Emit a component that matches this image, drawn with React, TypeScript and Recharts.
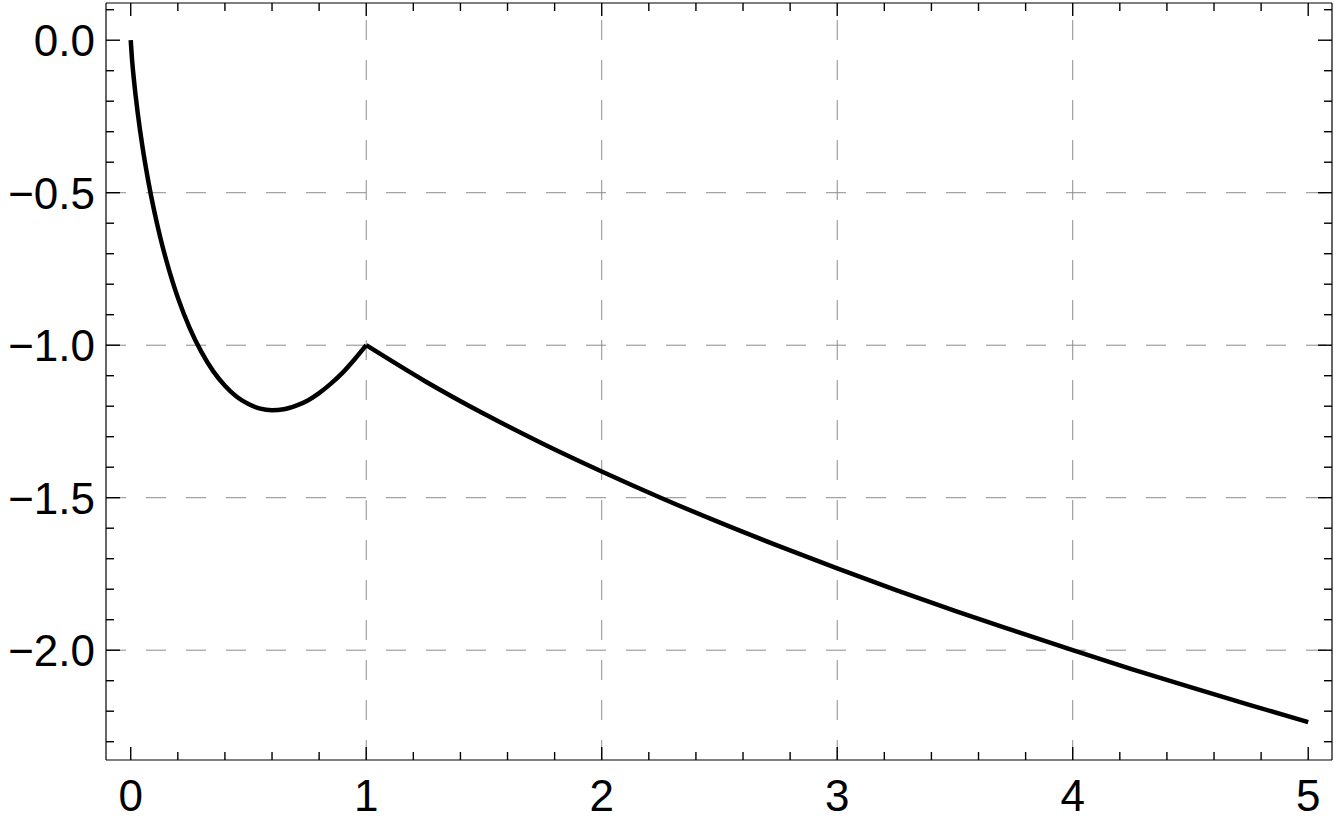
import React from 'react';
import { LineChart, Line, XAxis, YAxis, ReferenceLine } from 'recharts';

// Branch on [0, 1]
const leftX = [0, 0.005, 0.01, 0.02, 0.03, 0.05, 0.075, 0.1, 0.125, 0.15, 0.175, 0.2, 0.25, 0.3, 0.35, 0.4, 0.45, 0.5, 0.55, 0.6, 0.65, 0.7, 0.75, 0.8, 0.85, 0.9, 0.95, 1];
const leftY = [0, -0.058, -0.102, -0.176, -0.24, -0.35, -0.464, -0.561, -0.645, -0.719, -0.785, -0.844, -0.943, -1.022, -1.085, -1.133, -1.169, -1.193, -1.208, -1.213, -1.21, -1.199, -1.182, -1.157, -1.126, -1.09, -1.047, -1.0];

// Branch on [1, 5]
const rightX = [1, 1.25, 1.5, 1.75, 2, 2.25, 2.5, 2.75, 3, 3.25, 3.5, 3.75, 4, 4.25, 4.5, 4.75, 5];
const rightY = [-1.0, -1.118, -1.225, -1.323, -1.414, -1.5, -1.581, -1.658, -1.732, -1.803, -1.871, -1.936, -2.0, -2.062, -2.121, -2.179, -2.236];

// Ticks
const xTicks = [0, 0.2, 0.4, 0.6, 0.8, 1, 1.2, 1.4, 1.6, 1.8, 2, 2.2, 2.4, 2.6, 2.8, 3, 3.2, 3.4, 3.6, 3.8, 4, 4.2, 4.4, 4.6, 4.8, 5];
const xMajor = [0, 1, 2, 3, 4, 5];
const xTickLabels = ['0', '1', '2', '3', '4', '5'];

const yTicks = [0.1, 0, -0.1, -0.2, -0.3, -0.4, -0.5, -0.6, -0.7, -0.8, -0.9, -1.0, -1.1, -1.2, -1.3, -1.4, -1.5, -1.6, -1.7, -1.8, -1.9, -2.0, -2.1, -2.2, -2.3];
const yMajor = [0, -0.5, -1.0, -1.5, -2.0];
const yTickLabels = ['0.0', '\u22120.5', '\u22121.0', '\u22121.5', '\u22122.0'];

const xGrid = [1, 2, 3, 4];
const yGrid = [-0.5, -1.0, -1.5, -2.0];

const leftData = leftX.map((x, i) => ({ x, y: leftY[i] }));
const rightData = rightX.map((x, i) => ({ x, y: rightY[i] }));

const FONT = '"Liberation Sans", Arial, Helvetica, sans-serif';
const FS = 44;

const majorIndex = (v: number, majors: number[]) => majors.findIndex((m) => Math.abs(m - v) < 1e-6);

const BottomTick = (props: any) => {
  const { x, y, payload } = props;
  const idx = majorIndex(payload.value, xMajor);
  const len = idx >= 0 ? 13 : 8;
  return (
    <g>
      <line x1={x} x2={x} y1={y} y2={y - len} stroke="#000" strokeWidth={1.4} />
      {idx >= 0 && (
        <text x={x} y={y + 51} textAnchor="middle" fontSize={FS} fontFamily={FONT} fill="#000">
          {xTickLabels[idx]}
        </text>
      )}
    </g>
  );
};

const TopTick = (props: any) => {
  const { x, y, payload } = props;
  const idx = majorIndex(payload.value, xMajor);
  const len = idx >= 0 ? 13 : 8;
  return <line x1={x} x2={x} y1={y} y2={y + len} stroke="#000" strokeWidth={1.4} />;
};

const LeftTick = (props: any) => {
  const { x, y, payload } = props;
  const idx = majorIndex(payload.value, yMajor);
  const len = idx >= 0 ? 14 : 8;
  return (
    <g>
      <line x1={x} x2={x + len} y1={y} y2={y} stroke="#000" strokeWidth={1.4} />
      {idx >= 0 && (
        <text x={x - 11} y={y + 16} textAnchor="end" fontSize={FS} fontFamily={FONT} fill="#000">
          {yTickLabels[idx]}
        </text>
      )}
    </g>
  );
};

const RightTick = (props: any) => {
  const { x, y, payload } = props;
  const idx = majorIndex(payload.value, yMajor);
  const len = idx >= 0 ? 14 : 8;
  return <line x1={x} x2={x - len} y1={y} y2={y} stroke="#000" strokeWidth={1.4} />;
};

const xDomain = [-0.105, 5.101];
const yDomain = [-2.36, 0.122];

export default function App() {
  return (
    <div style={{ position: 'absolute', left: 0, top: 0, width: 1334, height: 822, background: '#fff' }}>
      <LineChart width={1334} height={822} margin={{ top: 2, right: 1, bottom: 0, left: 0 }}>
        <XAxis
          xAxisId={0}
          type="number"
          dataKey="x"
          domain={xDomain}
          ticks={xTicks}
          interval={0}
          allowDataOverflow
          height={62}
          tickSize={0}
          tickMargin={0}
          tickLine={false}
          axisLine={{ stroke: '#000', strokeWidth: 1.2 }}
          tick={<BottomTick />}
        />
        <XAxis
          xAxisId="top"
          orientation="top"
          type="number"
          dataKey="x"
          domain={xDomain}
          ticks={xTicks}
          interval={0}
          allowDataOverflow
          height={1}
          tickSize={0}
          tickMargin={0}
          tickLine={false}
          axisLine={{ stroke: '#000', strokeWidth: 1.2 }}
          tick={<TopTick />}
        />
        <YAxis
          yAxisId={0}
          type="number"
          dataKey="y"
          domain={yDomain}
          ticks={yTicks}
          interval={0}
          allowDataOverflow
          width={106}
          tickSize={0}
          tickMargin={0}
          tickLine={false}
          axisLine={{ stroke: '#000', strokeWidth: 1.2 }}
          tick={<LeftTick />}
        />
        <YAxis
          yAxisId="right"
          orientation="right"
          type="number"
          dataKey="y"
          domain={yDomain}
          ticks={yTicks}
          interval={0}
          allowDataOverflow
          width={1}
          tickSize={0}
          tickMargin={0}
          tickLine={false}
          axisLine={{ stroke: '#000', strokeWidth: 1.2 }}
          tick={<RightTick />}
        />
        {xGrid.map((g) => (
          <ReferenceLine key={'gx' + g} x={g} stroke="#8c8c8c" strokeWidth={1} strokeDasharray="20 20" ifOverflow="hidden" />
        ))}
        {yGrid.map((g) => (
          <ReferenceLine key={'gy' + g} y={g} stroke="#8c8c8c" strokeWidth={1} strokeDasharray="20 20" ifOverflow="hidden" />
        ))}
        <Line
          data={leftData}
          dataKey="y"
          type="monotone"
          stroke="#000"
          strokeWidth={4.5}
          dot={false}
          activeDot={false}
          isAnimationActive={false}
        />
        <Line
          data={rightData}
          dataKey="y"
          type="monotone"
          stroke="#000"
          strokeWidth={4.5}
          dot={false}
          activeDot={false}
          isAnimationActive={false}
        />
      </LineChart>
    </div>
  );
}
